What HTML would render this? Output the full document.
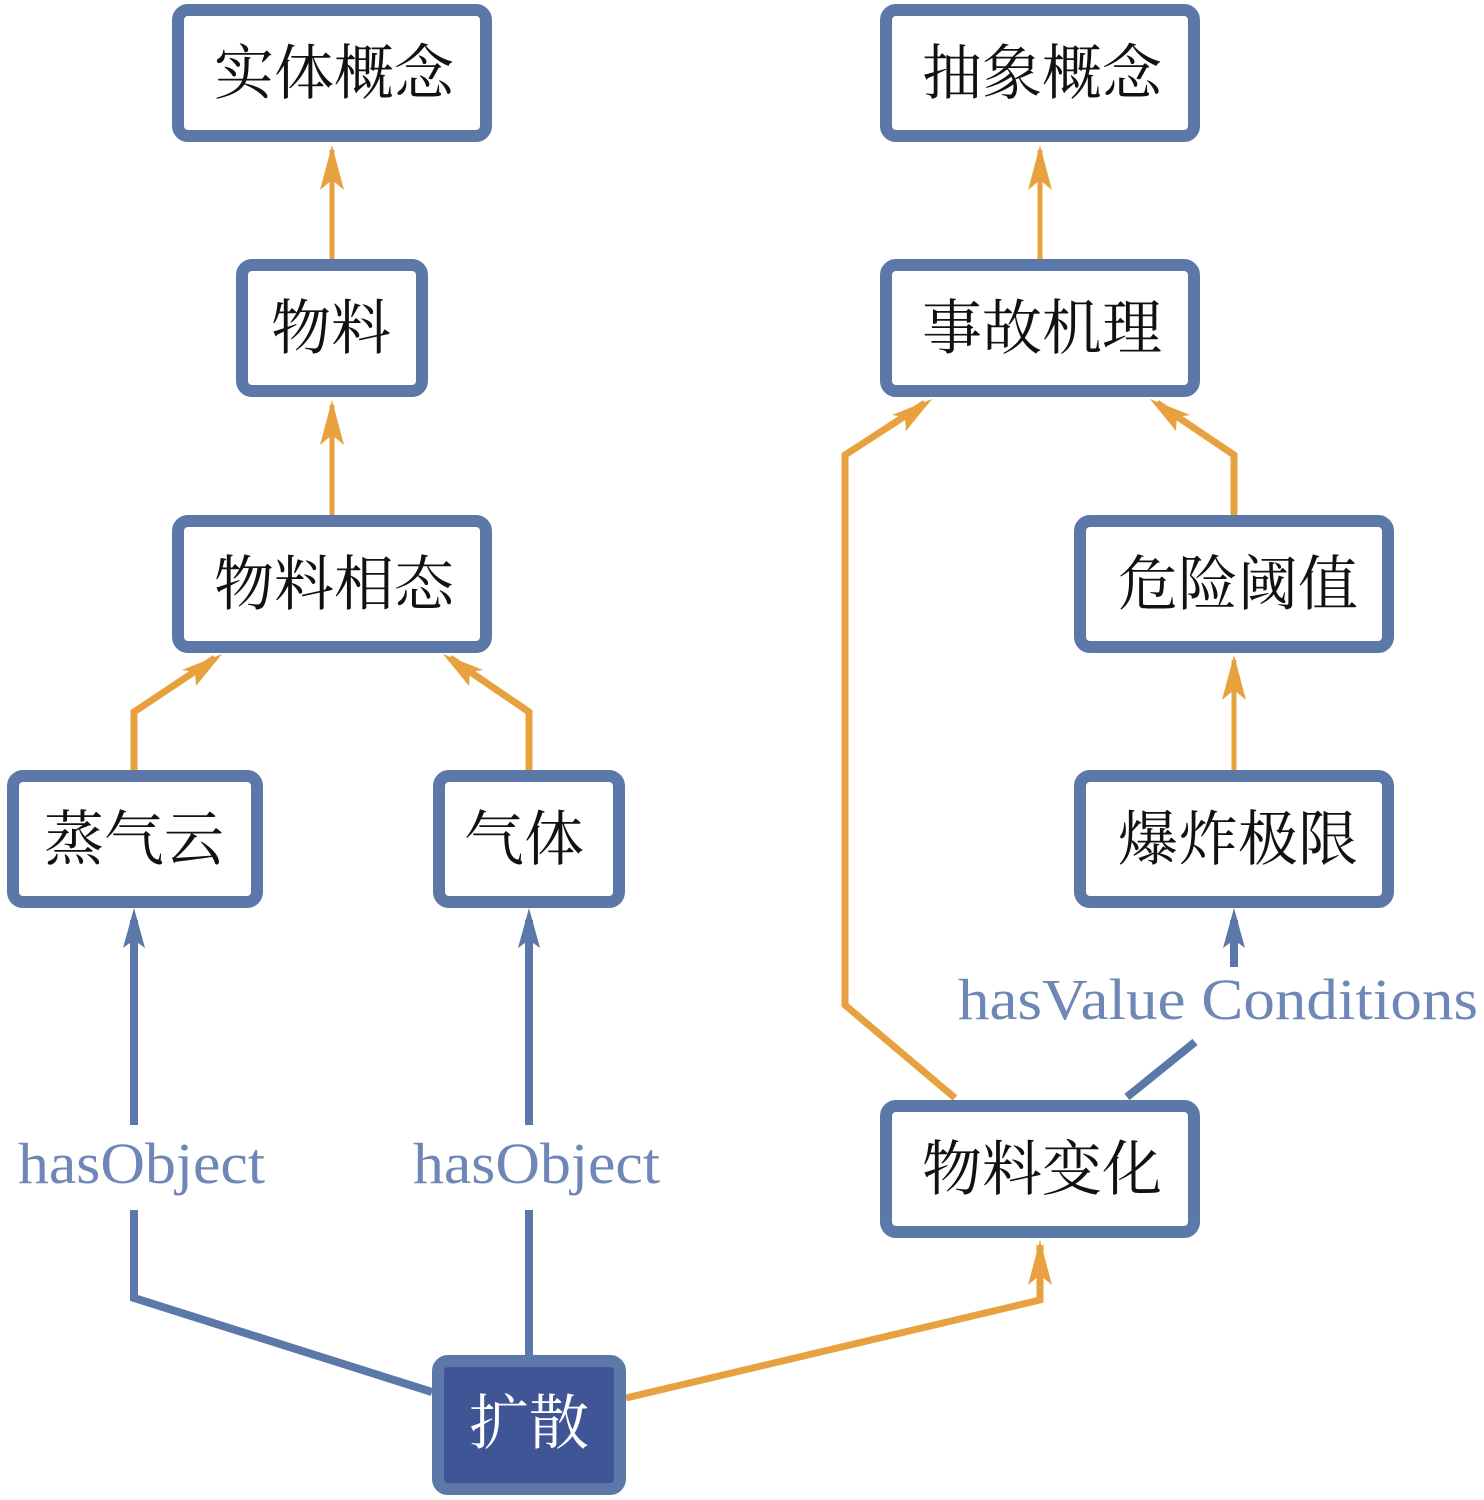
<!DOCTYPE html>
<html><head><meta charset="utf-8"><style>html,body{margin:0;padding:0;background:#fff}svg{display:block}</style></head>
<body>
<svg width="1484" height="1500" viewBox="0 0 1484 1500" xmlns="http://www.w3.org/2000/svg">
<defs>
<marker id="ao" markerWidth="10" markerHeight="10" refX="9" refY="5" orient="auto" markerUnits="userSpaceOnUse" viewBox="0 0 10 10">
</marker>
</defs>
<g fill="none" stroke="#e8a13f" stroke-linejoin="miter">
<g stroke-width="5">
<line x1="332" y1="259" x2="332" y2="150"/>
<line x1="332" y1="515" x2="332" y2="405"/>
<line x1="1040" y1="259" x2="1040" y2="150"/>
<line x1="1234" y1="770" x2="1234" y2="660"/>
</g>
<g stroke-width="7">
<polyline points="134,770 134,712 215,658"/>
<polyline points="529,770 529,712 450,658"/>
<polyline points="955,1098 845,1005 845,455 925,403"/>
<polyline points="1234,515 1234,455 1157,403"/>
<polyline points="626,1398 1040,1300 1040,1245"/>
</g>
</g>
<g fill="#e8a13f">
<polygon points="332,145 320,190 332,180 344,190"/>
<polygon points="332,400 320,445 332,435 344,445"/>
<polygon points="1040,145 1028,190 1040,180 1052,190"/>
<polygon points="1234,655 1222,700 1234,690 1246,700"/>
<polygon points="222,654 182,670 195,672 196,686"/>
<polygon points="443,654 483,670 470,672 469,686"/>
<polygon points="932,399 892,415 905,417 906,431"/>
<polygon points="1150,399 1190,415 1177,417 1176,431"/>
<polygon points="1040,1240 1028,1285 1040,1275 1052,1285"/>
</g>
<g fill="none" stroke="#5b78a8" stroke-width="8">
<line x1="134" y1="920" x2="134" y2="1125"/>
<polyline points="134,1210 134,1298 432,1392"/>
<line x1="529" y1="920" x2="529" y2="1125"/>
<line x1="529" y1="1210" x2="529" y2="1357"/>
<line x1="1127" y1="1097" x2="1195" y2="1042"/>
<line x1="1234" y1="967" x2="1234" y2="920"/>
</g>
<g fill="#5b78a8">
<polygon points="134,908 123,948 134,940 145,948"/>
<polygon points="529,908 518,948 529,940 540,948"/>
<polygon points="1234,908 1223,948 1234,940 1245,948"/>
</g>
<g fill="#fff" stroke="#5b78a8" stroke-width="12">
<rect x="178" y="10" width="308" height="126" rx="10"/>
<rect x="886" y="10" width="308" height="126" rx="10"/>
<rect x="242" y="265" width="180" height="126" rx="10"/>
<rect x="886" y="265" width="308" height="126" rx="10"/>
<rect x="178" y="521" width="308" height="126" rx="10"/>
<rect x="1080" y="521" width="308" height="126" rx="10"/>
<rect x="13" y="776" width="244" height="126" rx="10"/>
<rect x="439" y="776" width="180" height="126" rx="10"/>
<rect x="1080" y="776" width="308" height="126" rx="10"/>
<rect x="886" y="1106" width="308" height="126" rx="10"/>
<rect x="438" y="1361" width="182" height="128" rx="10" fill="#3f5596"/>
</g>
<g font-family="'Noto Serif CJK SC','Liberation Serif',serif" font-size="60" text-anchor="middle" fill="#111">
<text x="334" y="94">实体概念</text>
<text x="1042" y="94">抽象概念</text>
<text x="331" y="349">物料</text>
<text x="1042" y="349">事故机理</text>
<text x="334" y="605">物料相态</text>
<text x="1238" y="605">危险阈值</text>
<text x="134" y="860">蒸气云</text>
<text x="524" y="860">气体</text>
<text x="1238" y="860">爆炸极限</text>
<text x="1042" y="1190">物料变化</text>
<text x="529" y="1444" fill="#fff">扩散</text>
</g>
<g font-family="'Liberation Serif',serif" font-size="58" fill="#6f87b6">
<text x="18" y="1183" textLength="247" lengthAdjust="spacingAndGlyphs">hasObject</text>
<text x="413" y="1183" textLength="247" lengthAdjust="spacingAndGlyphs">hasObject</text>
<text x="958" y="1019" textLength="520" lengthAdjust="spacingAndGlyphs">hasValue Conditions</text>
</g>
</svg>
</body></html>
